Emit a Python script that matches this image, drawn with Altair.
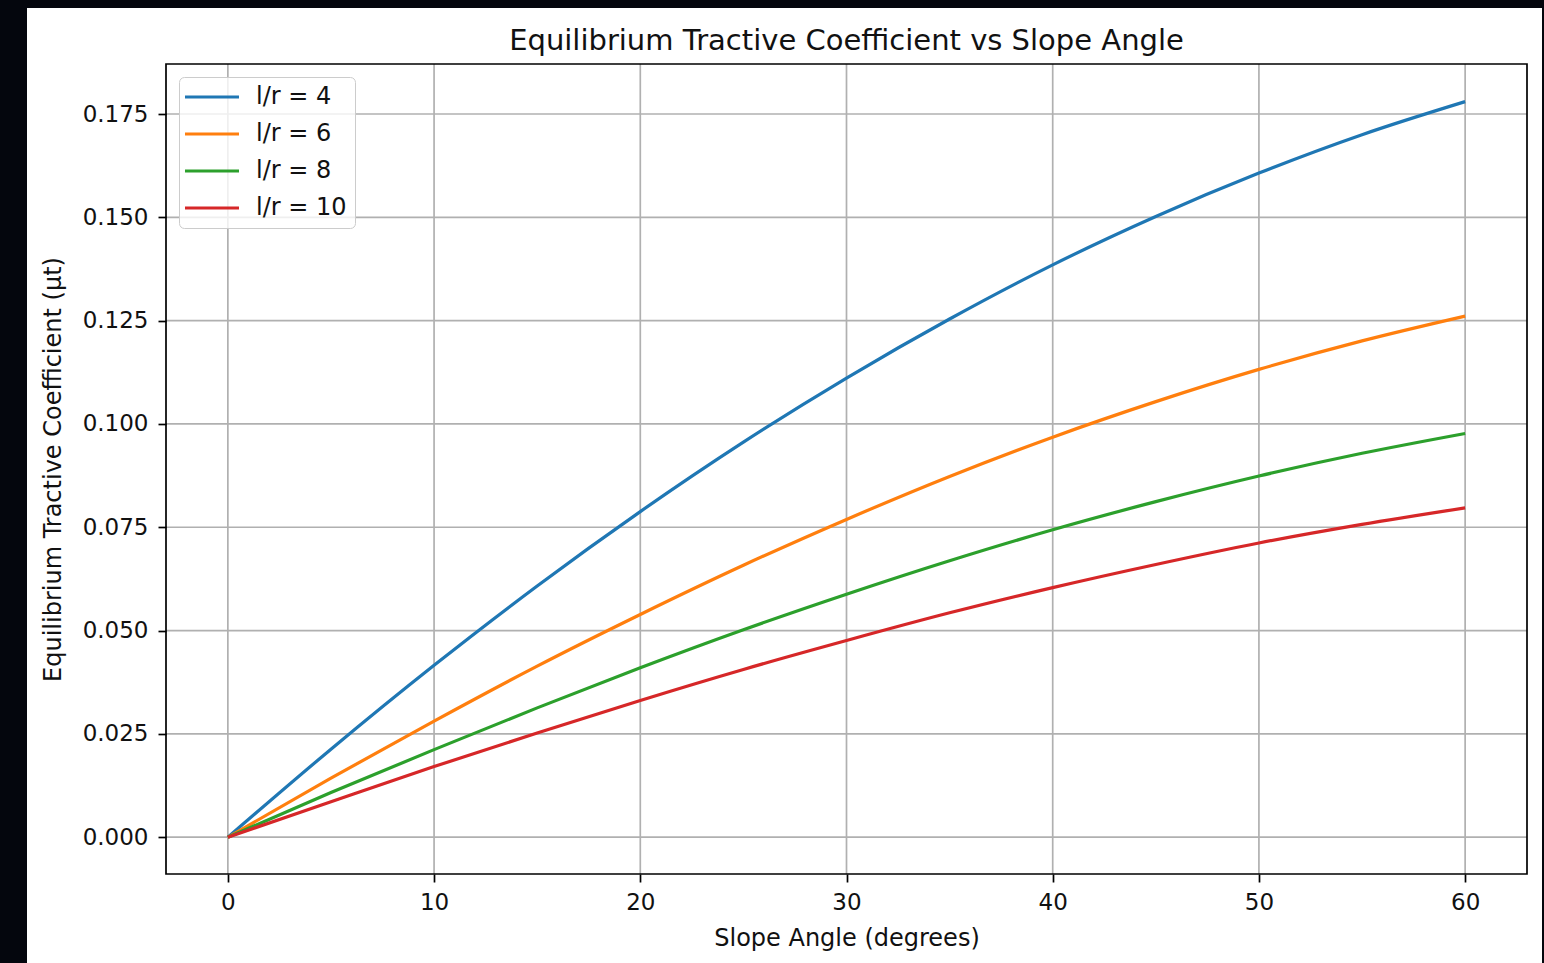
import altair as alt
import pandas as pd

# Slope angle samples (degrees) and equilibrium tractive coefficient per l/r ratio
angles = [0, 5, 10, 15, 20, 25, 30, 35, 40, 45, 50, 55, 60]
mu_lr4 = [0.0, 0.0213, 0.0416, 0.0608, 0.0788, 0.0956, 0.1111, 0.1254, 0.1385, 0.1502, 0.1607, 0.1700, 0.1780]
mu_lr6 = [0.0, 0.0143, 0.0281, 0.0414, 0.0539, 0.0658, 0.0769, 0.0873, 0.0968, 0.1054, 0.1132, 0.1201, 0.1261]
mu_lr8 = [0.0, 0.0108, 0.0212, 0.0313, 0.0410, 0.0502, 0.0588, 0.0669, 0.0744, 0.0812, 0.0874, 0.0929, 0.0977]
mu_lr10 = [0.0, 0.0086, 0.0171, 0.0252, 0.0331, 0.0406, 0.0476, 0.0543, 0.0604, 0.0660, 0.0712, 0.0757, 0.0797]

series_names = ["l/r = 4", "l/r = 6", "l/r = 8", "l/r = 10"]
series_colors = ["#1f77b4", "#ff7f0e", "#2ca02c", "#d62728"]

x_ticks = [0, 10, 20, 30, 40, 50, 60]
y_ticks = [0.0, 0.025, 0.05, 0.075, 0.1, 0.125, 0.15, 0.175]
x_domain = [-3, 63]
y_domain = [-0.0089, 0.1871]

FONT = "DejaVu Sans"
GRID = "#b0b0b0"

rows = []
for name, values in zip(series_names, [mu_lr4, mu_lr6, mu_lr8, mu_lr10]):
    for a, m in zip(angles, values):
        rows.append({"angle": a, "mu": m, "series": name})
df = pd.DataFrame(rows)

x_scale = alt.Scale(domain=x_domain, nice=False, zero=False)
y_scale = alt.Scale(domain=y_domain, nice=False, zero=False)

axis_common = dict(
    grid=False, domain=False, tickColor="black", tickWidth=1.7, tickSize=8,
    labelFont=FONT, labelFontSize=23, labelColor="#111111",
    titleFont=FONT, titleFontSize=24, titleFontWeight="normal", titleColor="#111111",
    zindex=1,
)

# white figure panel
panel = alt.Chart(alt.Data(values=[{"k": 0}])).mark_rect(color="white").encode(
    x=alt.value(-139), x2=alt.value(1376), y=alt.value(-56), y2=alt.value(899)
)

x_grid = alt.Chart(pd.DataFrame({"v": x_ticks})).mark_rule(color=GRID, strokeWidth=1.7).encode(
    x=alt.X("v:Q", scale=x_scale)
)
y_grid = alt.Chart(pd.DataFrame({"v": y_ticks})).mark_rule(color=GRID, strokeWidth=1.7).encode(
    y=alt.Y("v:Q", scale=y_scale)
)

lines = alt.Chart(df).mark_line(strokeWidth=3.2, interpolate="monotone").encode(
    x=alt.X("angle:Q", scale=x_scale, title="Slope Angle (degrees)",
            axis=alt.Axis(values=x_ticks, format="d", labelPadding=9, titlePadding=12, **axis_common)),
    y=alt.Y("mu:Q", scale=y_scale, title="Equilibrium Tractive Coefficient (μt)",
            axis=alt.Axis(values=y_ticks, format=".3f", labelPadding=10, titlePadding=17, **axis_common)),
    color=alt.Color(
        "series:N",
        scale=alt.Scale(domain=series_names, range=series_colors),
        sort=series_names,
        legend=alt.Legend(
            title=None, orient="none", legendX=13, legendY=13,
            symbolType="M-1.556,0H4.444", symbolSize=324, symbolStrokeWidth=3.2,
            labelFont=FONT, labelFontSize=24, labelColor="#111111", labelOffset=45,
            padding=8, rowPadding=13,
            fillColor="rgba(255,255,255,0.8)", strokeColor="#cccccc", cornerRadius=5,
            zindex=1,
        ),
    ),
)

frame = alt.Chart(pd.DataFrame({"x": [x_domain[0]], "x2": [x_domain[1]],
                                "y": [y_domain[0]], "y2": [y_domain[1]]})).mark_rect(
    filled=False, stroke="black", strokeWidth=1.7
).encode(x=alt.X("x:Q", scale=x_scale), x2="x2:Q", y=alt.Y("y:Q", scale=y_scale), y2="y2:Q")

chart = alt.layer(panel, x_grid, y_grid, lines, frame).properties(
    width=1361, height=810,
    title=alt.TitleParams("Equilibrium Tractive Coefficient vs Slope Angle", font=FONT,
                          fontSize=29, fontWeight="normal", color="#111111",
                          anchor="middle", baseline="alphabetic", offset=-71, zindex=1),
    background="#04060d",
    padding={"left": 166, "top": 64, "right": 17, "bottom": 89},
    autosize=alt.AutoSizeParams(type="none"),
).configure_view(stroke=None)

chart.save("out.html", embed_options={"renderer": "svg", "actions": False})
